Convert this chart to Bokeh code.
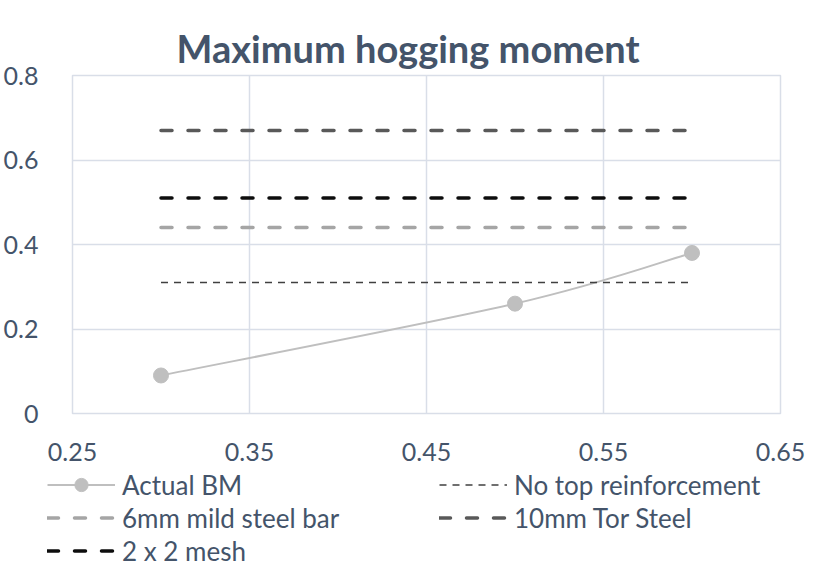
from bokeh.plotting import figure
from bokeh.models import Legend, LegendItem, Range1d, FixedTicker, ColumnDataSource
from bokeh.embed import file_html
from bokeh.resources import INLINE

# ---- data ----
title_text = "Maximum hogging moment"
x_ticks = [0.25, 0.35, 0.45, 0.55, 0.65]
x_tick_labels = ["0.25", "0.35", "0.45", "0.55", "0.65"]
y_ticks = [0, 0.2, 0.4, 0.6, 0.8]
y_tick_labels = ["0", "0.2", "0.4", "0.6", "0.8"]

bm_x = [0.3, 0.5, 0.6]
bm_y = [0.09, 0.26, 0.38]

ref_x = [0.3, 0.6]
no_top = 0.31
mild_6mm = 0.44
tor_10mm = 0.67
mesh_2x2 = 0.51

series_names = ["Actual BM", "No top reinforcement", "6mm mild steel bar",
                "10mm Tor Steel", "2 x 2 mesh"]

FONT = "Lato"
TXT = "#44546A"
GRID = "#D9DEE8"
EDGE = "#D9D9D9"

BM_COL = "#BFBFBF"
styles = {
    "notop": dict(line_color="#404040", line_width=1.5, line_dash="7 6"),
    "mild": dict(line_color="#A5A5A5", line_width=3.5, line_dash="11 16", line_cap="round"),
    "tor": dict(line_color="#595959", line_width=3.5, line_dash="11 16", line_cap="round"),
    "mesh": dict(line_color="#0D0D0D", line_width=3.5, line_dash="11 16", line_cap="round"),
}


def add_series(fig, visible=True):
    r_pt = fig.scatter(bm_x, bm_y, size=15, fill_color=BM_COL, line_color=BM_COL,
                       visible=visible)
    r_nt = fig.line(ref_x, [no_top] * len(ref_x), visible=visible, **styles["notop"])
    r_mi = fig.line(ref_x, [mild_6mm] * len(ref_x), visible=visible, **styles["mild"])
    r_to = fig.line(ref_x, [tor_10mm] * len(ref_x), visible=visible, **styles["tor"])
    r_me = fig.line(ref_x, [mesh_2x2] * len(ref_x), visible=visible, **styles["mesh"])
    return r_pt, r_nt, r_mi, r_to, r_me


p = figure(width=813, height=466, output_backend="svg", toolbar_location=None,
           x_range=Range1d(0.25, 0.65), y_range=Range1d(0, 0.8),
           min_border_left=67, min_border_right=33, min_border_top=75,
           min_border_bottom=53, title=title_text,
           styles={"box-shadow": f"-1px -2px 0 0 white, -2px -3px 0 0 {EDGE}"})

p.title.align = "left"
p.title.offset = 104
p.title.text_font = FONT
p.title.text_font_style = "bold"
p.title.text_font_size = "38px"
p.title.text_color = TXT
p.title.standoff = 10

p.outline_line_color = GRID
p.outline_line_width = 1.5
p.background_fill_color = "white"
p.border_fill_color = "white"

for ax in (p.xaxis[0], p.yaxis[0]):
    ax.axis_line_color = None
    ax.major_tick_line_color = None
    ax.minor_tick_line_color = None
    ax.major_label_text_font = FONT
    ax.major_label_text_font_size = "25px"
    ax.major_label_text_color = TXT

p.xaxis[0].ticker = FixedTicker(ticks=x_ticks)
p.xaxis[0].major_label_overrides = dict(zip(x_ticks, x_tick_labels))
p.xaxis[0].major_label_standoff = 23
p.yaxis[0].ticker = FixedTicker(ticks=y_ticks)
p.yaxis[0].major_label_overrides = dict(zip(y_ticks, y_tick_labels))
p.yaxis[0].major_label_standoff = 28

p.xgrid[0].grid_line_color = GRID
p.ygrid[0].grid_line_color = GRID
p.xgrid[0].grid_line_width = 1.5
p.ygrid[0].grid_line_width = 1.5

# Actual BM: smoothed (Catmull-Rom style bezier) curve through the data points
n = len(bm_x)
seg = dict(x0=[], y0=[], x1=[], y1=[], cx0=[], cy0=[], cx1=[], cy1=[])
for i in range(n - 1):
    pxm = bm_x[max(i - 1, 0)]; pym = bm_y[max(i - 1, 0)]
    pxp = bm_x[min(i + 2, n - 1)]; pyp = bm_y[min(i + 2, n - 1)]
    seg["x0"].append(bm_x[i]); seg["y0"].append(bm_y[i])
    seg["x1"].append(bm_x[i + 1]); seg["y1"].append(bm_y[i + 1])
    seg["cx0"].append(bm_x[i] + (bm_x[i + 1] - pxm) / 6)
    seg["cy0"].append(bm_y[i] + (bm_y[i + 1] - pym) / 6)
    seg["cx1"].append(bm_x[i + 1] - (pxp - bm_x[i]) / 6)
    seg["cy1"].append(bm_y[i + 1] - (pyp - bm_y[i]) / 6)

p.bezier(x0="x0", y0="y0", x1="x1", y1="y1", cx0="cx0", cy0="cy0",
         cx1="cx1", cy1="cy1", source=ColumnDataSource(seg),
         line_color=BM_COL, line_width=2)
add_series(p)

# ---- legend strip under the chart: keys use the same series (hidden there) ----
lg = figure(width=813, height=103, output_backend="svg", toolbar_location=None,
            x_axis_type=None, y_axis_type=None, x_range=Range1d(0.25, 0.65),
            y_range=Range1d(0, 0.8), min_border=0, outline_line_color=None,
            styles={"box-shadow": f"-1px 0 0 0 white, -2px 0 0 0 {EDGE}"})
lg.grid.visible = False
k_bm_line = lg.line(bm_x, bm_y, line_color=BM_COL, line_width=2, visible=False)
k_pt, k_nt, k_mi, k_to, k_me = add_series(lg, visible=False)

items = [
    LegendItem(label=series_names[0], renderers=[k_bm_line, k_pt]),
    LegendItem(label=series_names[1], renderers=[k_nt]),
    LegendItem(label=series_names[2], renderers=[k_mi]),
    LegendItem(label=series_names[3], renderers=[k_to]),
    LegendItem(label=series_names[4], renderers=[k_me]),
]
legend = Legend(items=items, orientation="horizontal", ncols=2,
                location=(47, 2), padding=0, margin=0, spacing=0,
                glyph_width=68, glyph_height=33, label_height=33,
                label_width=317, label_standoff=7,
                label_text_font=FONT, label_text_font_size="26px",
                label_text_color=TXT, border_line_color=None,
                background_fill_alpha=0)
lg.add_layout(legend, "center")

open("out.html", "w").write(file_html([p, lg], INLINE))
